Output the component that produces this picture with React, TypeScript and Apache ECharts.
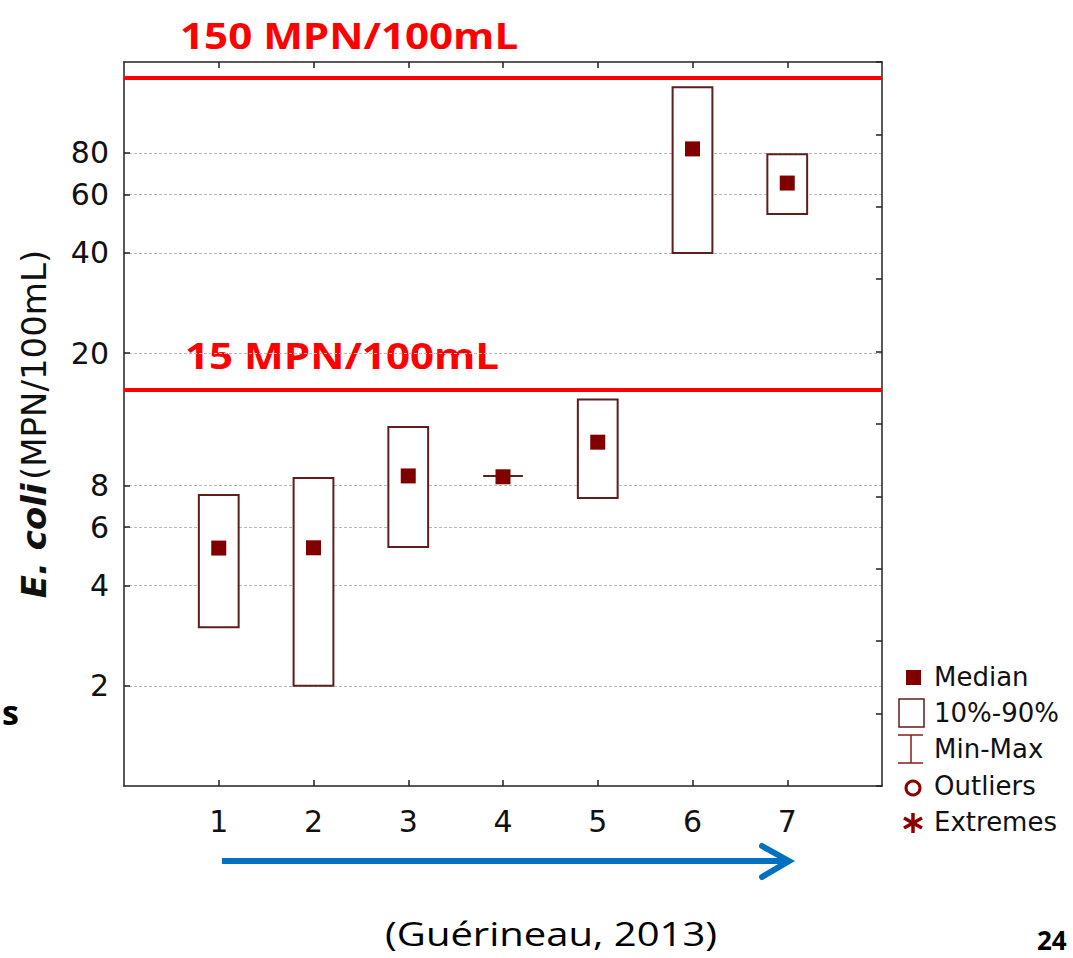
import React, { useEffect, useRef } from 'react';
import * as echarts from 'echarts';

// ---- data ----
const GROUPS = [1, 2, 3, 4, 5, 6, 7];
const P10 = [3.0, 2.0, 5.23, 8.55, 7.34, 40.0, 52.4];
const P90 = [7.49, 8.43, 12.0, 8.55, 14.5, 126, 79.2];
const MEDIAN = [5.19, 5.2, 8.55, 8.5, 10.8, 82.2, 64.9];
const Y_TICKS = [2, 4, 6, 8, 20, 40, 60, 80];
const Y_MIN = 1;
const Y_MAX = 150;
const LIMIT_VALUES = [134, 15.6];
const LIMIT_LABELS = ['150 MPN/100mL', '15 MPN/100mL'];
const LEGEND_LABELS = ['Median', '10%-90%', 'Min-Max', 'Outliers', 'Extremes'];

const BOX_WIDTH = 0.42;
const FONT = 'DejaVu Sans';
const MAROON = '#800000';
const BOX_STROKE = '#5e1e1e';

export default function App() {
  const ref = useRef<HTMLDivElement>(null);

  useEffect(() => {
    const chart = echarts.init(ref.current!, null, { renderer: 'svg' });
    const lg = Math.log10;
    const boxData = GROUPS.map((g, i) => [g, lg(P10[i]), lg(P90[i])]);
    const medData = GROUPS.map((g, i) => [g, lg(MEDIAN[i])]);
    const yTickLog = Y_TICKS.map((v) => lg(v));

    const legendX = 934;
    const legendYs = [677, 713, 749, 786, 822];
    const legendText = LEGEND_LABELS.map((t, i) => ({
      type: 'text',
      x: legendX,
      y: legendYs[i],
      style: { text: t, font: `26px "${FONT}"`, fill: '#111', verticalAlign: 'middle', textAlign: 'left' },
    }));

    const axisLineStyle = { show: true, onZero: false, lineStyle: { color: '#222', width: 1.5 } };
    const tickStyle = { color: '#222', width: 1.5 };

    const option: any = {
      animation: false,
      backgroundColor: '#fff',
      grid: { left: 124, top: 62, width: 758, height: 724, containLabel: false },
      xAxis: [
        {
          type: 'value',
          min: 0,
          max: 8,
          position: 'bottom',
          axisLine: axisLineStyle,
          axisTick: { show: true, inside: true, length: 6, customValues: GROUPS, lineStyle: tickStyle },
          axisLabel: {
            show: true,
            customValues: GROUPS,
            margin: 20,
            fontFamily: FONT,
            fontSize: 30,
            color: '#111',
            formatter: (v: number) => String(Math.round(v)),
          },
          splitLine: { show: false },
        },
        {
          type: 'value',
          min: 0,
          max: 8,
          position: 'top',
          axisLine: axisLineStyle,
          axisTick: { show: true, inside: true, length: 6, customValues: GROUPS, lineStyle: tickStyle },
          axisLabel: { show: false },
          splitLine: { show: false },
        },
      ],
      yAxis: [
        {
          type: 'value',
          min: lg(Y_MIN),
          max: lg(Y_MAX),
          position: 'left',
          name: '{b|E. coli} {n|(MPN/100mL)}',
          nameLocation: 'middle',
          nameGap: 73,
          nameRotate: 90,
          nameTextStyle: {
            rich: {
              b: { fontFamily: FONT, fontSize: 34, fontWeight: 'bold', fontStyle: 'italic', color: '#111' },
              n: { fontFamily: FONT, fontSize: 34, color: '#111' },
            },
          },
          axisLine: axisLineStyle,
          axisTick: { show: true, inside: true, length: 6, customValues: yTickLog, lineStyle: tickStyle },
          axisLabel: {
            show: true,
            customValues: yTickLog,
            margin: 15,
            fontFamily: FONT,
            fontSize: 30,
            color: '#111',
            formatter: (v: number) => String(Math.round(Math.pow(10, v))),
          },
          splitLine: { show: true, lineStyle: { color: '#b8b8b8', width: 1, type: [3, 2] } },
        },
        {
          type: 'value',
          min: 0,
          max: 10,
          interval: 1,
          position: 'right',
          axisLine: axisLineStyle,
          axisTick: { show: true, inside: true, length: 6, lineStyle: tickStyle },
          axisLabel: { show: false },
          splitLine: { show: false },
        },
      ],
      series: [
        {
          type: 'custom',
          name: '10%-90%',
          xAxisIndex: 0,
          yAxisIndex: 0,
          data: boxData,
          encode: { x: 0, y: [1, 2] },
          renderItem: (params: any, api: any) => {
            const x = api.value(0);
            const lo = api.value(1);
            const hi = api.value(2);
            const top = api.coord([x, hi]);
            const bot = api.coord([x, lo]);
            const w = api.size([BOX_WIDTH, 0])[0];
            return {
              type: 'rect',
              shape: { x: top[0] - w / 2, y: top[1], width: w, height: bot[1] - top[1] },
              style: { fill: '#fff', stroke: BOX_STROKE, lineWidth: 2 },
            };
          },
          z: 3,
        },
        {
          type: 'scatter',
          name: 'Median',
          xAxisIndex: 0,
          yAxisIndex: 0,
          data: medData,
          symbol: 'rect',
          symbolSize: 15,
          itemStyle: { color: MAROON, opacity: 1 },
          z: 4,
          markLine: {
            silent: true,
            symbol: 'none',
            label: { show: false },
            lineStyle: { color: '#ff0000', width: 4, type: 'solid', opacity: 1 },
            data: LIMIT_VALUES.map((v) => ({ yAxis: lg(v) })),
            z: 5,
          },
        },
      ],
      graphic: [
        // limit labels
        {
          type: 'text',
          x: 180,
          y: 35,
          scaleX: 1.17,
          style: { text: LIMIT_LABELS[0], font: 'bold 36px "Open Sans"', fill: '#ff0000', verticalAlign: 'middle', textAlign: 'left' },
        },
        {
          type: 'text',
          x: 185,
          y: 355,
          scaleX: 1.17,
          style: { text: LIMIT_LABELS[1], font: 'bold 36px "Open Sans"', fill: '#ff0000', verticalAlign: 'middle', textAlign: 'left' },
        },
        // legend symbols
        { type: 'rect', shape: { x: 906, y: 670, width: 15, height: 15 }, style: { fill: MAROON } },
        { type: 'rect', shape: { x: 899, y: 699, width: 25, height: 28 }, style: { fill: 'none', stroke: BOX_STROKE, lineWidth: 1.5 } },
        { type: 'line', shape: { x1: 898, y1: 735, x2: 923, y2: 735 }, style: { stroke: '#8b1a1a', lineWidth: 1.5 } },
        { type: 'line', shape: { x1: 911, y1: 735, x2: 911, y2: 763 }, style: { stroke: '#8b1a1a', lineWidth: 1.5 } },
        { type: 'line', shape: { x1: 898, y1: 763, x2: 923, y2: 763 }, style: { stroke: '#8b1a1a', lineWidth: 1.5 } },
        { type: 'circle', shape: { cx: 913, cy: 788, r: 7 }, style: { fill: 'none', stroke: '#8b0000', lineWidth: 3 } },
        { type: 'line', shape: { x1: 913, y1: 813, x2: 913, y2: 833 }, style: { stroke: '#8b0000', lineWidth: 3.5 } },
        { type: 'line', shape: { x1: 904, y1: 818, x2: 922, y2: 828 }, style: { stroke: '#8b0000', lineWidth: 3.5 } },
        { type: 'line', shape: { x1: 904, y1: 828, x2: 922, y2: 818 }, style: { stroke: '#8b0000', lineWidth: 3.5 } },
        ...legendText,
        // blue arrow
        { type: 'line', shape: { x1: 222, y1: 861, x2: 786, y2: 861 }, style: { stroke: '#0070C0', lineWidth: 6 } },
        { type: 'polyline', shape: { points: [[762, 846], [789, 861], [762, 877]] }, style: { stroke: '#0070C0', lineWidth: 6, fill: 'none', lineJoin: 'miter', lineCap: 'round' } },
        // citation and slide remnants
        {
          type: 'text',
          x: 385,
          y: 934,
          scaleX: 1.25,
          style: { text: '(Guérineau, 2013)', font: '32px "Open Sans"', fill: '#000', verticalAlign: 'middle', textAlign: 'left' },
        },
        {
          type: 'text',
          x: 1037,
          y: 940,
          style: { text: '24', font: 'bold 26px "Open Sans"', fill: '#000', verticalAlign: 'middle', textAlign: 'left' },
        },
        {
          type: 'text',
          x: 2,
          y: 712,
          style: { text: 's', font: 'bold 34px "Open Sans"', fill: '#000', verticalAlign: 'middle', textAlign: 'left' },
        },
      ],
    };

    chart.setOption(option);
    return () => chart.dispose();
  }, []);

  return (
    <div
      ref={ref}
      style={{ position: 'fixed', left: 0, top: 0, width: 1073, height: 958, background: '#fff' }}
    />
  );
}
